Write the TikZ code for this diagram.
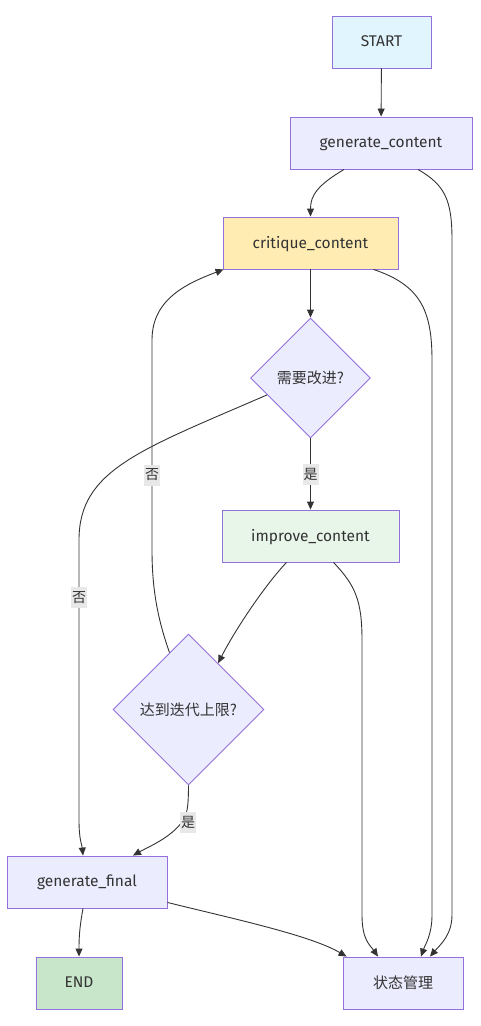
\documentclass[tikz,border=0pt]{standalone}
\usepackage{fontspec}
\setmainfont{Fira Sans}
\newfontfamily\cjk{Noto Sans CJK SC}
\usetikzlibrary{shapes.geometric,arrows.meta,calc}
\definecolor{strk}{HTML}{9370DB}
\definecolor{defill}{HTML}{ECECFF}
\definecolor{startfill}{HTML}{E1F5FE}
\definecolor{critfill}{HTML}{FFECB3}
\definecolor{impfill}{HTML}{E8F5E9}
\definecolor{endfill}{HTML}{C8E6C9}
\definecolor{txt}{HTML}{333333}
\definecolor{lblbg}{HTML}{E8E8E8}
\begin{document}
\begin{tikzpicture}[x=1pt,y=-1pt,
  box/.style={draw=strk, line width=0.9pt, fill=defill, text=txt, minimum height=52pt, inner sep=0pt, text depth=2pt, font=\fontsize{15.5}{18}\selectfont},
  dia/.style={diamond, aspect=1, draw=strk, line width=0.9pt, fill=defill, text=txt, inner sep=0pt, font=\fontsize{15}{18}\selectfont},
  edge/.style={draw=txt, line width=0.9pt, -{Triangle[length=8pt,width=7pt]}},
  lbl/.style={fill=lblbg, text=txt, inner sep=1pt, minimum height=21pt, font=\cjk\fontsize{14}{16}\selectfont}]
\useasboundingbox (0,0) rectangle (480,1026);
\node[box, fill=startfill, minimum width=99pt] (start) at (381.5,42) {START};
\node[box, minimum width=182pt] (gc) at (381,143) {generate\_content};
\node[box, fill=critfill, minimum width=175pt] (cc) at (310.5,243) {critique\_content};
\node[dia, minimum size=120pt] (d1) at (310.5,378) {\cjk 需要改进?};
\node[box, fill=impfill, minimum width=177pt] (imp) at (310.5,536) {improve\_content};
\node[dia, minimum size=151pt] (d2) at (188.5,709.5) {\cjk 达到迭代上限?};
\node[box, minimum width=160pt] (gf) at (87,882) {generate\_final};
\node[box, fill=endfill, minimum width=86pt] (end) at (79,983) {END};
\node[box, minimum width=120pt, font=\cjk\fontsize{15}{18}\selectfont] (st) at (403,983) {状态管理};

\draw[edge] (start) -- (gc);
\draw[edge] ([xshift=-37pt]gc.south) .. controls (318,185) and (310.5,195) .. (cc.north);
\draw[edge] ([xshift=37pt]gc.south) .. controls (445,185) and (452,200) .. (452,240) -- (452,915) .. controls (452,935) and (440,945) .. ([xshift=27pt]st.north);
\draw[edge] ([xshift=63pt]cc.south) .. controls (420,285) and (432,310) .. (432,360) -- (432,915) .. controls (432,935) and (425,945) .. ([xshift=18pt]st.north);
\draw[edge] (cc.south) -- (d1.north);
\draw[edge] (d1.south) -- node[lbl]{是} (imp.north);
\draw[edge] ($(d1.west)!0.28!(d1.south)$) .. controls (140,450) and (79,470) .. (79,540) -- node[lbl, pos=0.207]{否} (79,820) .. controls (79,840) and (82,845) .. ([xshift=-4pt]gf.north);
\draw[edge] ([xshift=-24pt]imp.south) .. controls (265,585) and (235,630) .. ($(d2.north)!0.39!(d2.east)$);
\draw[edge] ([xshift=23pt]imp.south) .. controls (355,585) and (362,600) .. (362,640) -- (362,915) .. controls (362,940) and (370,945) .. ([xshift=-25pt]st.north);
\draw[edge] ($(d2.north)!0.25!(d2.west)$) .. controls (158,620) and (152,590) .. (152,550) -- node[lbl, pos=0.357]{否} (152,340) .. controls (152,300) and (185,284) .. ([xshift=1pt]cc.south west);
\draw[edge] (d2.south) .. controls (188.5,812) and (186,816) .. (182,822) node[lbl, xshift=6pt]{是} .. controls (170,838) and (150,846) .. ([xshift=46pt]gf.north);
\draw[edge] ([xshift=-4pt]gf.south) .. controls (80,925) and (79,935) .. (end.north);
\draw[edge] ([yshift=6pt]gf.south east) .. controls (230,918) and (310,935) .. ([xshift=4pt]st.north west);
\end{tikzpicture}
\end{document}
